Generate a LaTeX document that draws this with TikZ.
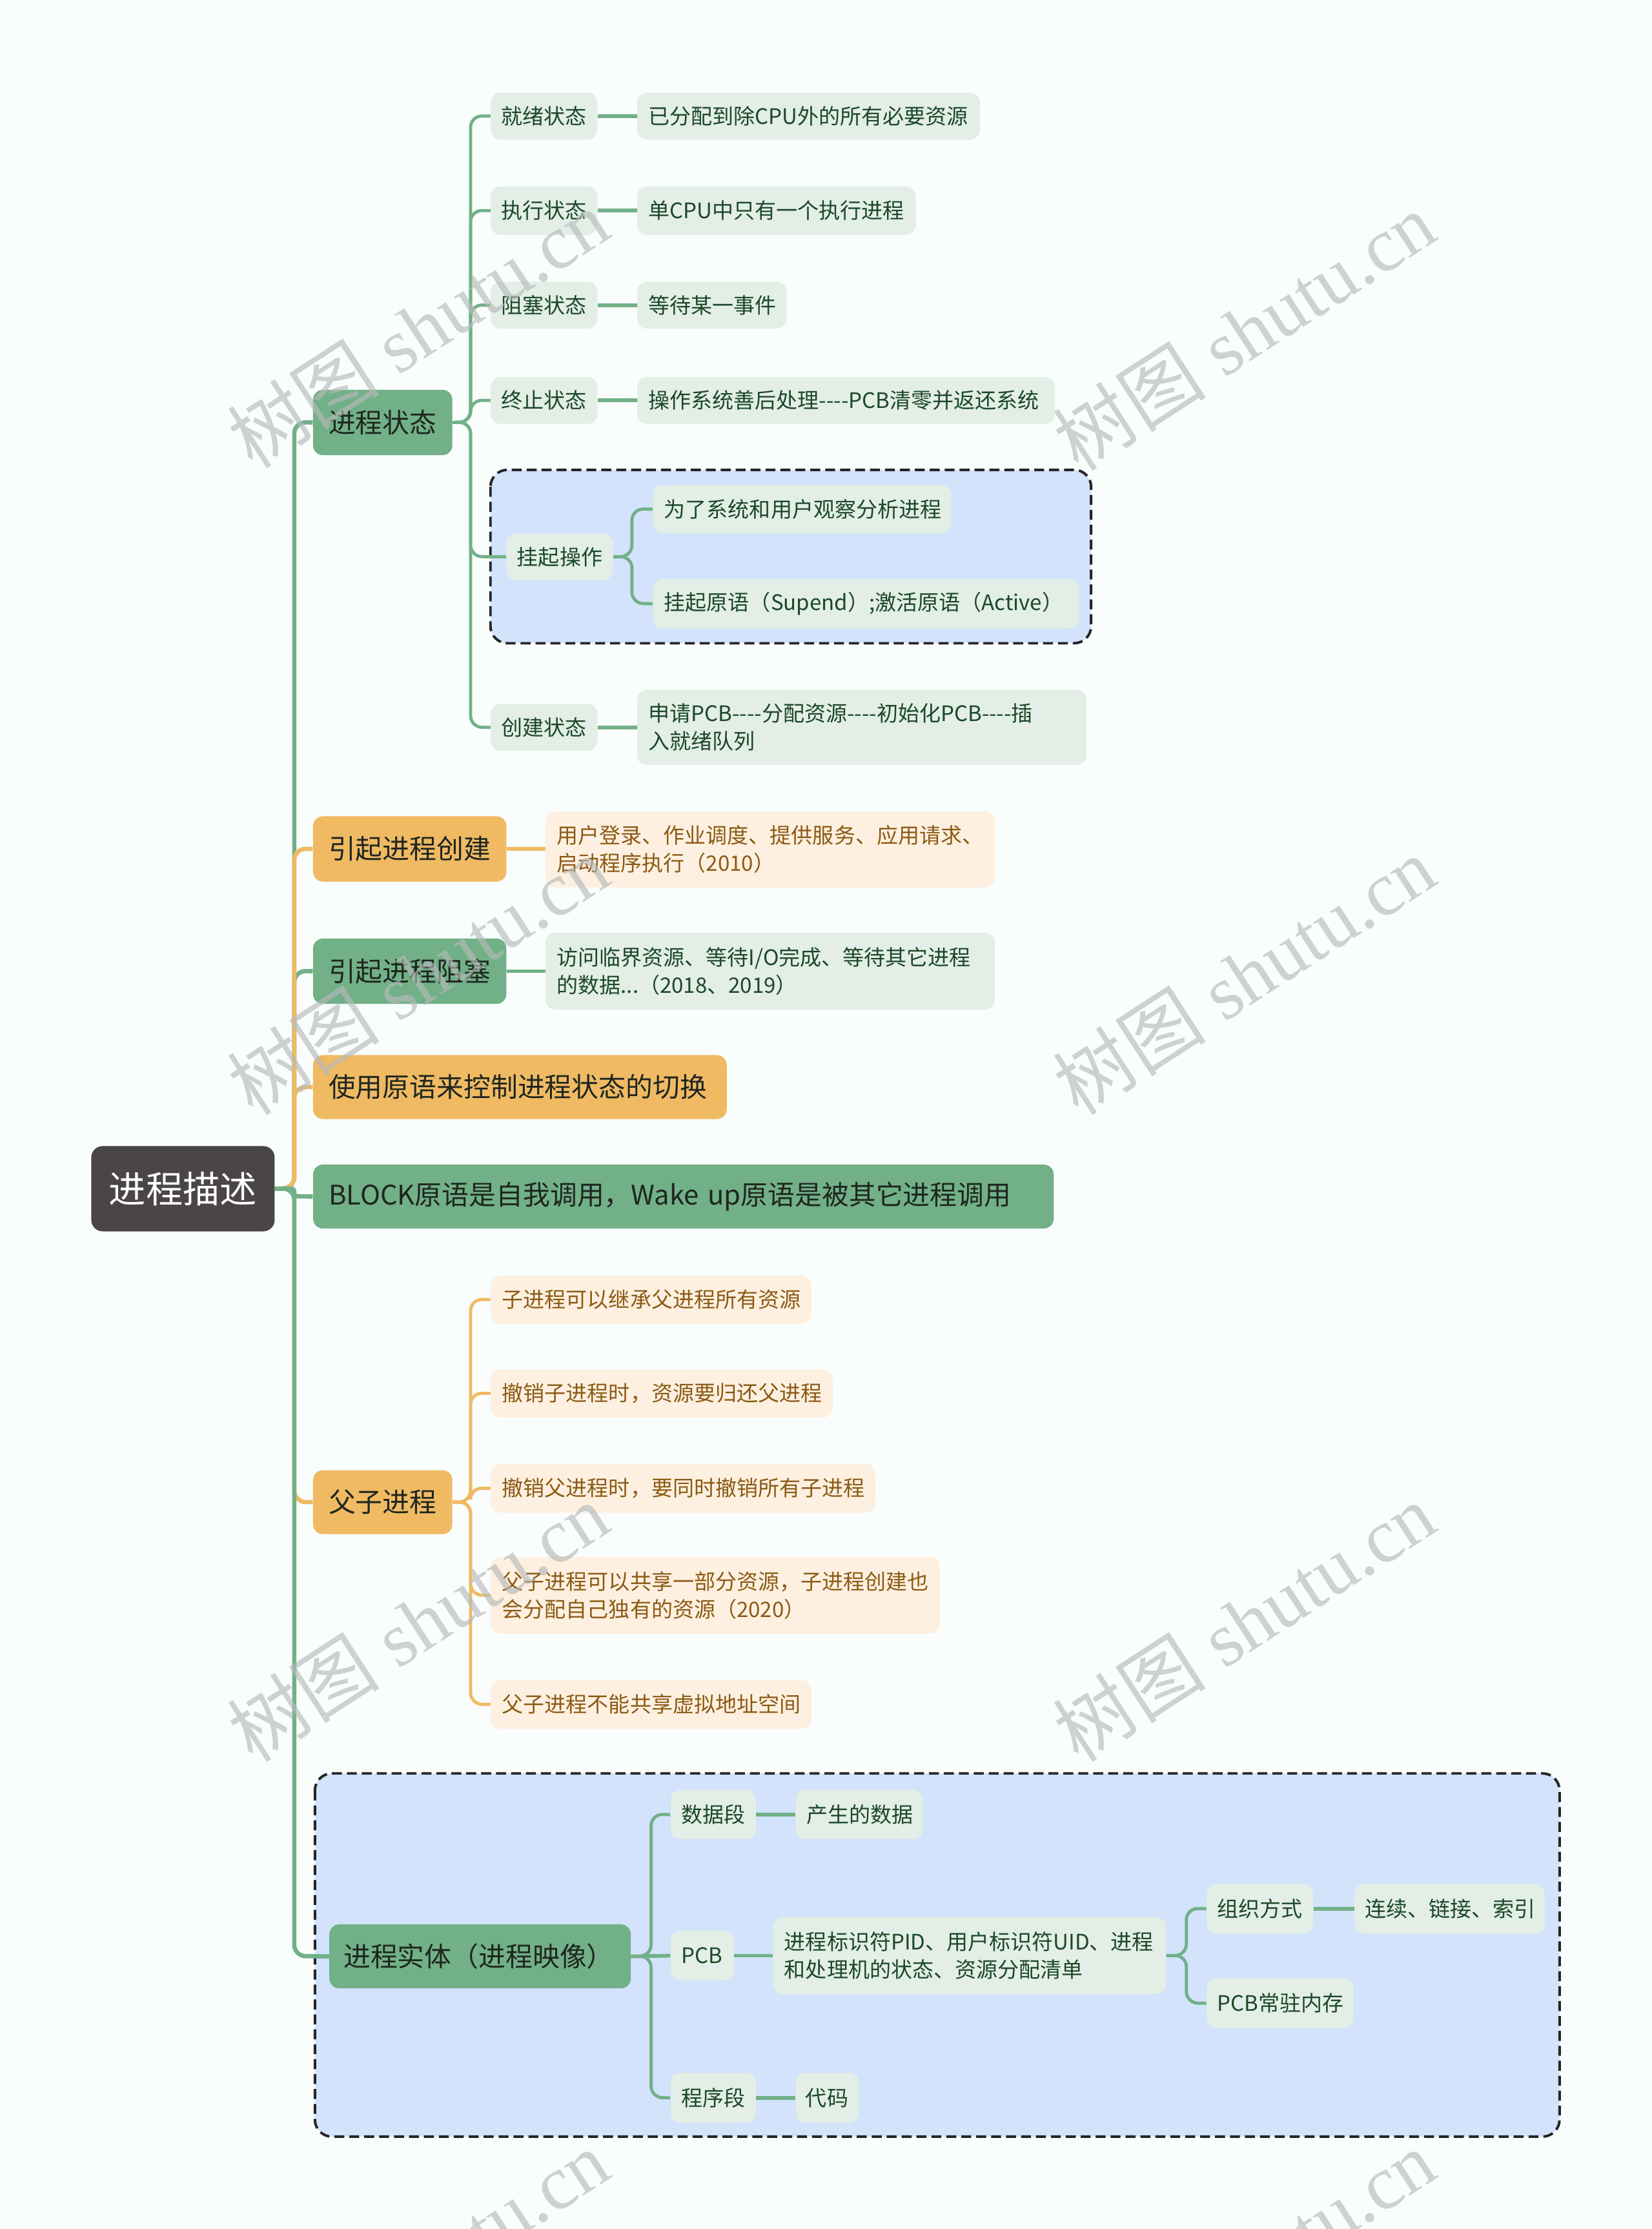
\documentclass[tikz,border=0pt]{standalone}
\usepackage{fontspec}
\setmainfont{Noto Sans CJK SC}[Ligatures=TeXOff]
\newfontfamily\wmcjk{Noto Sans CJK SC}
\newfontfamily\wmlat{Liberation Serif}
\definecolor{bg}{RGB}{249,253,252}
\definecolor{gnode}{RGB}{114,176,135}
\definecolor{ynode}{RGB}{240,186,99}
\definecolor{rootc}{RGB}{74,69,70}
\definecolor{lgfill}{RGB}{227,238,230}
\definecolor{lofill}{RGB}{253,240,224}
\definecolor{gtext}{RGB}{27,72,40}
\definecolor{btext}{RGB}{140,90,20}
\definecolor{dtext}{RGB}{30,38,32}
\definecolor{bluebox}{RGB}{210,227,251}
\definecolor{wmc}{RGB}{182,186,186}
\pgfdeclarelayer{boxes}
\pgfdeclarelayer{conn}
\pgfdeclarelayer{front}
\pgfsetlayers{boxes,conn,main,front}
% name, style, x, y, width, height, text, padding
\newcommand\bx[8]{\pgfmathsetmacro\tw{#5-2*#8}\node[#2, anchor=north west, minimum height=#6pt, inner xsep=#8pt, text width=\tw pt] (#1) at (#3,#4) {#7};}
\tikzset{
  base/.style={inner sep=0pt, align=left},
  rootn/.style={base, fill=rootc, text=white, rounded corners=8pt, font=\fontsize{26}{31}\selectfont},
  g1/.style={base, fill=gnode, text=dtext, rounded corners=7pt, font=\fontsize{19}{23}\selectfont},
  y1/.style={base, fill=ynode, text=dtext, rounded corners=7pt, font=\fontsize{19}{23}\selectfont},
  g2/.style={base, fill=lgfill, text=gtext, rounded corners=7pt, font=\fontsize{15}{19.5}\selectfont},
  y2/.style={base, fill=lofill, text=btext, rounded corners=7pt, font=\fontsize{15}{19.5}\selectfont},
  l1g/.style={draw=gnode, line width=3pt, rounded corners=8pt},
  l1y/.style={draw=ynode, line width=3pt, rounded corners=8pt},
  l2g/.style={draw=gnode, line width=2.2pt, rounded corners=8pt},
  l2y/.style={draw=ynode, line width=2.2pt, rounded corners=8pt},
  sg/.style={draw=gnode, line width=2.6pt},
  sy/.style={draw=ynode, line width=2.6pt},
  dbox/.style={draw=black!85, fill=bluebox, line width=1.8pt, dash pattern=on 7pt off 3.5pt, rounded corners=12pt},
  wmk/.style={text=wmc, text opacity=0.65, inner sep=0pt}
}
\begin{document}
\begin{tikzpicture}[x=1pt, y=-1pt]
\begin{pgfonlayer}{boxes}
\fill[bg] (0,0) rectangle (1162,1568);
\draw[dbox] (345,330.5) rectangle (767.5,452.5);
\draw[dbox] (221.5,1247.5) rectangle (1097,1503);
\end{pgfonlayer}
\useasboundingbox (0,0) rectangle (1162,1568);
% nodes
\bx{root}{rootn}{64}{806}{129}{60}{进程描述}{12.5}
\bx{n1}{g1}{220}{274}{98}{46}{进程状态}{11}
\bx{n2}{y1}{220}{574}{136}{46}{引起进程创建}{11}
\bx{n3}{g1}{220}{660}{136}{46}{引起进程阻塞}{11}
\bx{n4}{y1}{220}{742}{291}{45}{使用原语来控制进程状态的切换}{11}
\bx{n5}{g1}{220}{819}{521}{45}{BLOCK原语是自我调用，Wake up原语是被其它进程调用}{11}
\bx{n6}{y1}{220}{1034}{98}{45}{父子进程}{11}
\bx{n7}{g1}{231.5}{1353.5}{212}{45}{进程实体（进程映像）}{10}
% level 2 under 进程状态
\bx{a1}{g2}{345}{65}{75}{33}{就绪状态}{7.5}
\bx{a2}{g2}{345}{131}{75}{34}{执行状态}{7.5}
\bx{a3}{g2}{345}{198}{75}{33}{阻塞状态}{7.5}
\bx{a4}{g2}{345}{265}{75}{33}{终止状态}{7.5}
\bx{a5}{g2}{356}{375}{75}{33}{挂起操作}{7.5}
\bx{a6}{g2}{345}{495}{75}{33}{创建状态}{7.5}
\bx{b1}{g2}{448}{65}{241}{33}{已分配到除CPU外的所有必要资源}{8}
\bx{b2}{g2}{448}{131}{196}{34}{单CPU中只有一个执行进程}{8}
\bx{b3}{g2}{448}{198}{105}{33}{等待某一事件}{8}
\bx{b4}{g2}{448}{265}{294}{33}{操作系统善后处理----PCB清零并返还系统}{8}
\bx{b5}{g2}{459}{341}{210}{34}{为了系统和用户观察分析进程}{8}
\bx{b6}{g2}{459}{407}{300}{35}{挂起原语（Supend）;激活原语（Active）}{8}
\bx{b7}{g2}{448}{485}{316}{53}{申请PCB----分配资源----初始化PCB----插\\入就绪队列}{8}
% other level 2
\bx{c1}{y2}{383.5}{570.5}{316}{53.5}{用户登录、作业调度、提供服务、应用请求、\\启动程序执行（2010）}{8}
\bx{c2}{g2}{383.5}{656}{316}{54}{访问临界资源、等待I/O完成、等待其它进程\\的数据...（2018、2019）}{8}
\bx{d1}{y2}{345}{897}{225.5}{34}{子进程可以继承父进程所有资源}{8}
\bx{d2}{y2}{345}{963}{240.5}{34}{撤销子进程时，资源要归还父进程}{8}
\bx{d3}{y2}{345}{1029.5}{270.5}{34.5}{撤销父进程时，要同时撤销所有子进程}{8}
\bx{d4}{y2}{345}{1095}{316}{54}{父子进程可以共享一部分资源，子进程创建也\\会分配自己独有的资源（2020）}{8}
\bx{d5}{y2}{345}{1181.5}{225.5}{34.5}{父子进程不能共享虚拟地址空间}{8}
\bx{e1}{g2}{471.5}{1259}{60}{34.5}{数据段}{7.5}
\bx{e2}{g2}{471.5}{1358}{44.5}{35}{PCB}{7.5}
\bx{e3}{g2}{471.5}{1458}{60}{35}{程序段}{7.5}
\bx{f1}{g2}{559.5}{1259}{89.5}{34.5}{产生的数据}{7.5}
\bx{f2}{g2}{543.5}{1348.5}{276.5}{54}{进程标识符PID、用户标识符UID、进程\\和处理机的状态、资源分配清单}{8}
\bx{f3}{g2}{559.5}{1458}{44.5}{35}{代码}{7}
\bx{h1}{g2}{848.5}{1325}{75}{35}{组织方式}{7.5}
\bx{h2}{g2}{848.5}{1391.5}{103.5}{35}{PCB常驻内存}{7.5}
\bx{k1}{g2}{952.5}{1325}{134}{35}{连续、链接、索引}{7.5}
% connectors
\begin{pgfonlayer}{conn}
\draw[l1g] (root.east) -- (207,836) -- (207,297) -- (n1.west);
\draw[l1g] (root.east) -- (207,836) -- (207,683) -- (n3.west);
\draw[l1y] (root.east) -- (207,836) -- (207,597) -- (n2.west);
\draw[l1y] (root.east) -- (207,836) -- (207,764.5) -- (n4.west);
\draw[l1y] (root.east) -- (207,836) -- (207,1056.5) -- (n6.west);
\draw[l1g] (root.east) -- (207,836) -- (207,1376) -- (n7.west);
\draw[l1g, rounded corners=2pt] (root.east) -- (207,836) -- (207,841.5) -- (n5.west);
\draw[l2g] (n1.east) -- (331,297) -- (331,81.5) -- (a1.west);
\draw[l2g] (n1.east) -- (331,297) -- (331,148) -- (a2.west);
\draw[l2g] (n1.east) -- (331,297) -- (331,214.5) -- (a3.west);
\draw[l2g] (n1.east) -- (331,297) -- (331,281.5) -- (a4.west);
\draw[l2g] (n1.east) -- (331,297) -- (331,391.5) -- (a5.west);
\draw[l2g] (n1.east) -- (331,297) -- (331,511.5) -- (a6.west);
\draw[sg] (a1.east) -- (b1.west);
\draw[sg] (a2.east) -- (b2.west);
\draw[sg] (a3.east) -- (b3.west);
\draw[sg] (a4.east) -- (b4.west);
\draw[sg] (a6.east) -- (a6.east -| b7.west);
\draw[l2g] (a5.east) -- (444.5,391.5) -- (444.5,358) -- (b5.west);
\draw[l2g] (a5.east) -- (444.5,391.5) -- (444.5,424.5) -- (b6.west);
\draw[sy] (n2.east) -- (n2.east -| c1.west);
\draw[sg] (n3.east) -- (n3.east -| c2.west);
\draw[l2y] (n6.east) -- (331,1056.5) -- (331,914) -- (d1.west);
\draw[l2y] (n6.east) -- (331,1056.5) -- (331,980) -- (d2.west);
\draw[l2y] (n6.east) -- (331,1056.5) -- (331,1046.75) -- (d3.west);
\draw[l2y] (n6.east) -- (331,1056.5) -- (331,1122) -- (d4.west);
\draw[l2y] (n6.east) -- (331,1056.5) -- (331,1198.75) -- (d5.west);
\draw[l2g] (n7.east) -- (458,1376) -- (458,1276.25) -- (e1.west);
\draw[sg] (n7.east) -- (e2.west);
\draw[l2g] (n7.east) -- (458,1376) -- (458,1475.5) -- (e3.west);
\draw[sg] (e1.east) -- (f1.west);
\draw[sg] (e2.east) -- (e2.east -| f2.west);
\draw[sg] (e3.east) -- (f3.west);
\draw[l2g] (f2.east) -- (834.5,1375.5) -- (834.5,1342.5) -- (h1.west);
\draw[l2g] (f2.east) -- (834.5,1375.5) -- (834.5,1409) -- (h2.west);
\draw[sg] (h1.east) -- (k1.west);
\end{pgfonlayer}
% watermarks
\begin{pgfonlayer}{front}
\begin{scope}
\clip (0,0) rectangle (1162,1568);
\foreach \cx/\cy [count=\i] in {294/231, 875/233, 294/686, 875/686, 294/1141, 875/1141, 294/1596, 875/1596}
  \node[wmk, rotate=33] (wm\i) at (\cx,\cy) {\fontsize{54}{60}\selectfont\wmcjk 树图\wmlat\ shutu.cn};
\end{scope}
\end{pgfonlayer}
\end{tikzpicture}
\end{document}
